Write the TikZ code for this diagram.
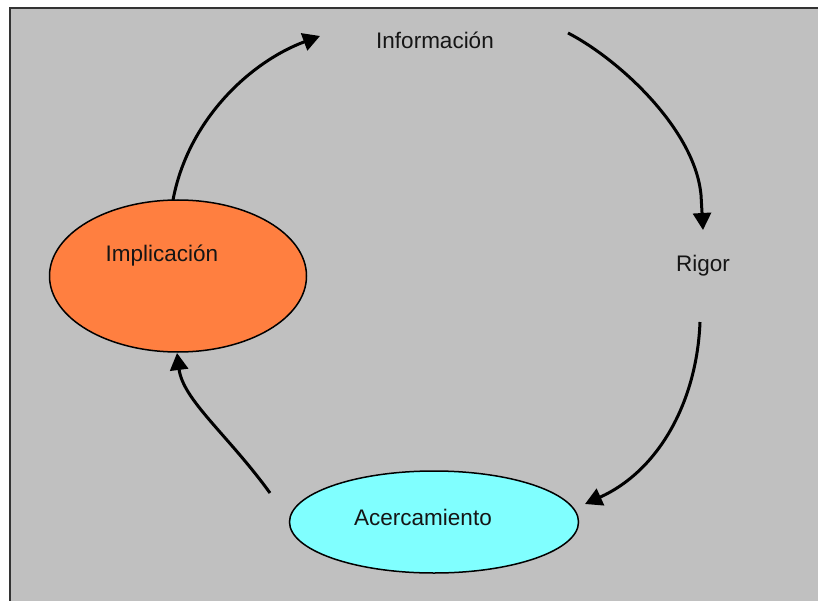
\documentclass[tikz,border=0pt]{standalone}
\usepackage{fontspec}
\setmainfont{Liberation Sans}
\usetikzlibrary{shapes.geometric,arrows.meta}
\definecolor{bggray}{HTML}{C0C0C0}
\definecolor{orangefill}{HTML}{FF7F40}
\definecolor{cyanfill}{HTML}{80FFFF}
\definecolor{txt}{HTML}{151515}
\tikzset{
  bubble/.style={ellipse, draw=black, line width=1.5pt, inner sep=0pt},
  lbl/.style={text=txt, font=\fontsize{22.5}{26}\selectfont, inner sep=0pt},
  flow/.style={line width=3pt, draw=black, -{Triangle[length=17pt,width=18pt]}}
}
\begin{document}
\begin{tikzpicture}[x=1pt,y=-1pt]
\useasboundingbox (0,0) rectangle (818,601);
\fill[white] (0,0) rectangle (818,601);
\fill[bggray] (10,8) rectangle (818,601);
\draw[line width=2pt, draw=black!80] (10,601) -- (10,8) -- (818,8);

\node[bubble, fill=orangefill, minimum width=257pt, minimum height=152pt] (impl) at (178,276) {};
\node[lbl] (implt) at (162,256) {Implicación};
\node[bubble, fill=cyanfill, minimum width=289pt, minimum height=102pt] (acer) at (434,522) {};
\node[lbl] (acert) at (423,517) {Acercamiento};
\node[lbl] (info) at (435,40) {Información};
\node[lbl] (rigor) at (703,266) {Rigor};

\coordinate (a1s) at (173,200);
\coordinate (a1e) at (320,36);
\coordinate (a2s) at (568,33);
\coordinate (a2m) at (701,195);
\coordinate (a2e) at (703,230);
\coordinate (a3s) at (700,322);
\coordinate (a3e) at (585,504);
\coordinate (a4s) at (270,493);
\coordinate (a4e) at (177,353);

\draw[flow] (a1s) .. controls (188,120) and (250,62) .. (a1e);
\draw[flow] (a2s) .. controls (620,60) and (695,130) .. (a2m) -- (a2e);
\draw[flow] (a3s) .. controls (697,400) and (660,470) .. (a3e);
\draw[flow] (a4s) .. controls (228,435) and (183,400) .. (a4e);
\end{tikzpicture}
\end{document}
